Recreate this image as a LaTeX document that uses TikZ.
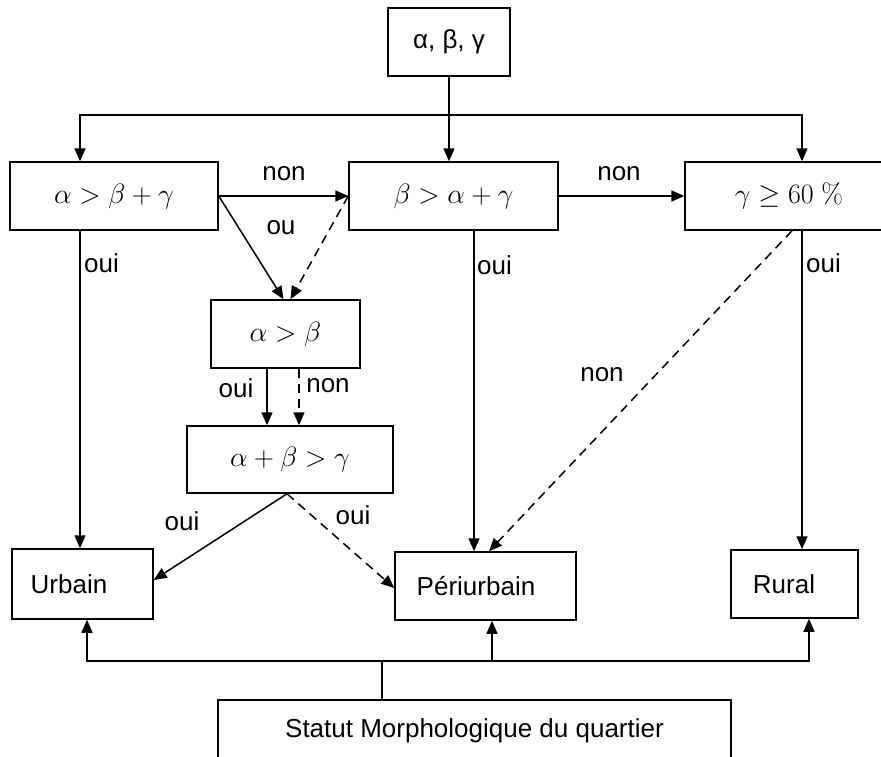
\RequirePackage{fix-cm}
\documentclass[tikz,border=0pt]{standalone}
\usepackage[no-math]{fontspec}
\setmainfont{Liberation Sans}
\usetikzlibrary{arrows.meta}
\begin{document}
\begin{tikzpicture}[x=1pt,y=-1pt,
  box/.style={draw=black, line width=1.5pt, inner sep=0pt, font=\fontsize{26}{31}\selectfont},
  mbox/.style={box, font=\fontsize{28}{33}\selectfont},
  lbl/.style={inner sep=0pt, font=\fontsize{26}{31}\selectfont},
  conn/.style={line width=1.5pt},
  arr/.style={conn, -{Triangle[length=13pt,width=11pt]}},
  darr/.style={arr, dash pattern=on 9pt off 6pt}
]
\useasboundingbox (0,0) rectangle (881,756);
% boxes
\node[box, minimum width=122pt, minimum height=68pt] (top) at (449,42) {α, β, γ};
\node[mbox, minimum width=208pt, minimum height=68pt] (c1) at (114,196) {$\alpha > \beta + \gamma$};
\node[mbox, minimum width=209pt, minimum height=68pt] (c2) at (453.5,196) {$\beta > \alpha + \gamma$};
\node[mbox, minimum width=208pt, minimum height=68pt] (c3) at (789,196) {$\gamma \geq 60~\mathrm{\%}$};
\node[mbox, minimum width=149pt, minimum height=68pt] (c4) at (285.5,334) {$\alpha > \beta$};
\node[mbox, minimum width=206pt, minimum height=67pt] (c5) at (290,459.5) {$\alpha + \beta > \gamma$};
\node[box, minimum width=141pt, minimum height=70pt] (urb) at (82.5,584) {Urbain\hspace*{27pt}};
\node[box, minimum width=181pt, minimum height=68pt] (per) at (485.5,586) {Périurbain\hspace*{19pt}};
\node[box, minimum width=127pt, minimum height=68pt] (rur) at (794.5,584) {Rural\hspace*{21pt}};
\node[box, minimum width=513pt, minimum height=62pt] (stat) at (474.5,731) {Statut Morphologique du quartier};
% helper coordinates
\coordinate (xL) at (80,0);
\coordinate (xR) at (802,0);
\coordinate (yT) at (0,115);
\coordinate (xP) at (474,0);
\coordinate (xB1) at (87,0);
\coordinate (xB2) at (492,0);
\coordinate (xB3) at (809,0);
\coordinate (yB) at (0,661);
\coordinate (xS) at (382,0);
% top distribution
\draw[arr] (top.south) -- (top.south |- c2.north);
\draw[arr] (top.south |- yT) -| (c1.north -| xL);
\draw[arr] (top.south |- yT) -| (c3.north -| xR);
% row 1 horizontal
\draw[arr] (c1.east) -- (c2.west);
\draw[arr] (c2.east) -- (c3.west);
\node[lbl] (n1) at (284,174) {non};
\node[lbl] (n2) at (619,174) {non};
% to alpha > beta
\draw[arr] (c1.east) -- ([xshift=-2pt]c4.north);
\draw[darr] (c2.west) -- ([xshift=5pt]c4.north);
\node[lbl] (ou) at (281,228) {ou};
% verticals
\draw[arr] (c1.south -| xL) -- (urb.north -| xL);
\node[lbl, anchor=west] (o1) at (84,263) {oui};
\draw[arr] (c2.south -| xP) -- (per.north -| xP);
\node[lbl, anchor=west] (o2) at (477,265) {oui};
\draw[arr] (c3.south -| xR) -- (rur.north -| xR);
\node[lbl, anchor=west] (o3) at (806,263) {oui};
\draw[darr] ([xshift=3pt]c3.south) -- ([xshift=3.5pt]per.north);
\node[lbl] (n3) at (602,375) {non};
% alpha > beta to alpha+beta > gamma
\draw[arr] ([xshift=-18.5pt]c4.south) -- ([xshift=-18.5pt]c4.south |- c5.north);
\draw[darr] ([xshift=13.5pt]c4.south) -- ([xshift=13.5pt]c4.south |- c5.north);
\node[lbl] (o4) at (236,388) {oui};
\node[lbl] (n4) at (328,386) {non};
% alpha+beta>gamma to outputs
\draw[arr] ([xshift=-3pt]c5.south) -- ([yshift=4pt]urb.east);
\draw[darr] ([xshift=-3pt]c5.south) -- ([yshift=-2pt]per.west);
\node[lbl] (o5) at (182,521) {oui};
\node[lbl] (o6) at (353,515) {oui};
% bottom distribution
\draw[arr] (stat.north -| xS) |- (xB1 |- yB) -- (urb.south -| xB1);
\draw[arr] (stat.north -| xS) |- (xB3 |- yB) -- (rur.south -| xB3);
\draw[arr] (xB2 |- yB) -- (per.south -| xB2);
\end{tikzpicture}
\end{document}
